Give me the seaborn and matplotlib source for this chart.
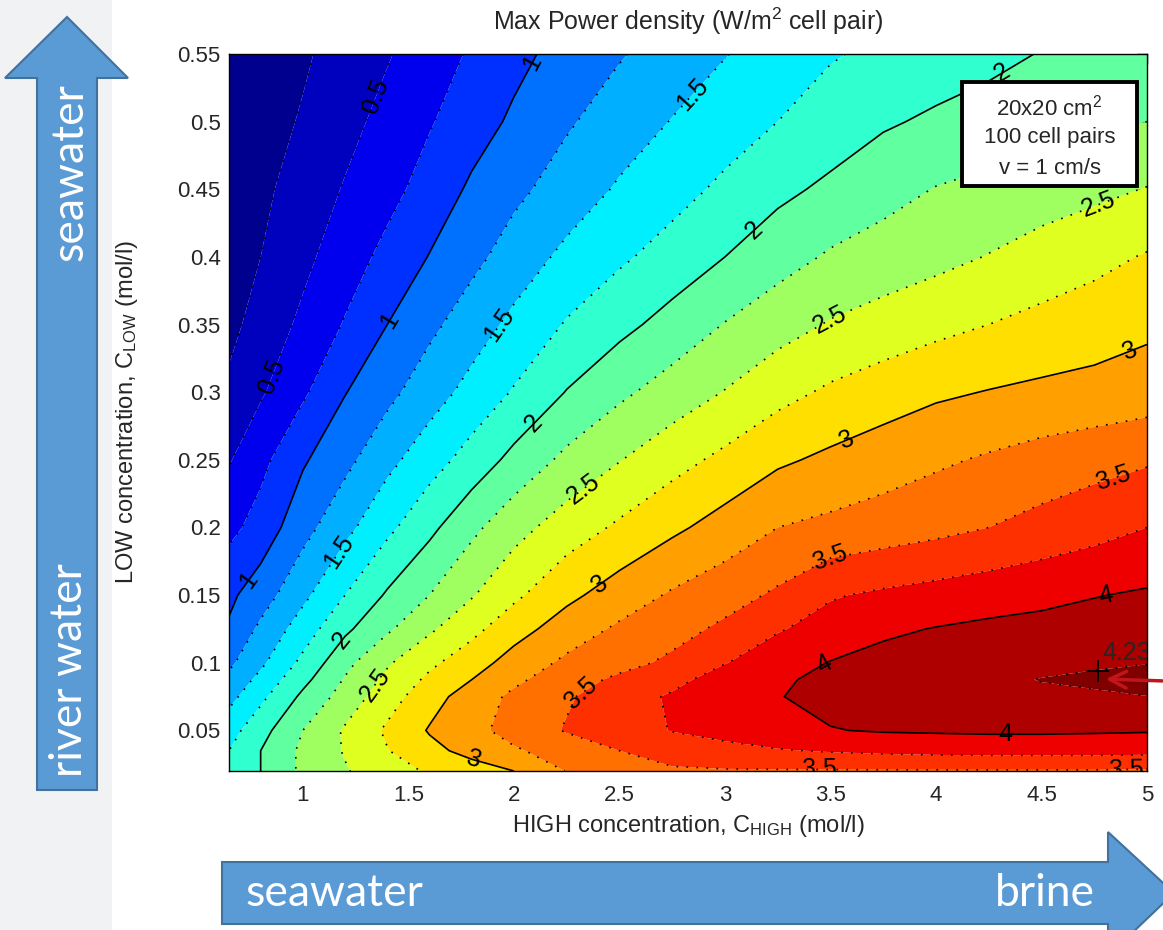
import numpy as np
import matplotlib
matplotlib.use("Agg")
import matplotlib.pyplot as plt
import seaborn as sns
from matplotlib.patches import Polygon, Rectangle, FancyArrowPatch

# ---------------- data ----------------
c_high = [0.65, 0.8, 1.0, 1.2, 1.4, 1.6, 1.8, 2.0, 2.25, 2.5, 2.75, 3.0,
          3.25, 3.5, 3.75, 4.0, 4.25, 4.5, 4.75, 5.0]
c_low = [0.02, 0.035, 0.05, 0.075, 0.0875, 0.1, 0.125, 0.15, 0.2, 0.25, 0.3, 0.35, 0.4, 0.45, 0.5, 0.55]

# max power density (W/m2 cell pair), one list per C_LOW row, along c_high
pd_clow_0020 = [1.85, 2.00, 2.30, 2.48, 2.64, 2.78, 2.89, 3.00, 3.26, 3.42, 3.47, 3.48, 3.48, 3.48, 3.48, 3.48, 3.48, 3.48, 3.48, 3.47]
pd_clow_0035 = [1.75, 2.00, 2.30, 2.52, 2.74, 2.93, 3.08, 3.22, 3.36, 3.50, 3.60, 3.67, 3.73, 3.77, 3.80, 3.82, 3.83, 3.83, 3.83, 3.82]
pd_clow_0050 = [1.65, 1.91, 2.25, 2.53, 2.79, 3.02, 3.18, 3.34, 3.52, 3.64, 3.76, 3.84, 3.93, 3.99, 4.02, 4.03, 4.04, 4.04, 4.03, 4.02]
pd_clow_0075 = [1.42, 1.69, 2.05, 2.35, 2.64, 2.90, 3.12, 3.30, 3.47, 3.64, 3.78, 3.90, 3.99, 4.07, 4.11, 4.14, 4.18, 4.20, 4.21, 4.228]
pd_clow_0088 = [1.31, 1.57, 1.93, 2.27, 2.56, 2.80, 3.00, 3.20, 3.39, 3.55, 3.68, 3.86, 3.97, 4.05, 4.11, 4.15, 4.20, 4.235, 4.255, 4.28]
pd_clow_0100 = [1.20, 1.45, 1.81, 2.18, 2.47, 2.70, 2.89, 3.10, 3.30, 3.42, 3.55, 3.74, 3.89, 4.01, 4.07, 4.12, 4.16, 4.19, 4.21, 4.225]
pd_clow_0125 = [1.03, 1.30, 1.62, 1.95, 2.21, 2.46, 2.68, 2.90, 3.12, 3.29, 3.41, 3.55, 3.73, 3.84, 3.96, 4.01, 4.05, 4.07, 4.10, 4.12]
pd_clow_0150 = [0.95, 1.13, 1.44, 1.75, 2.03, 2.25, 2.48, 2.70, 2.94, 3.12, 3.28, 3.40, 3.54, 3.73, 3.79, 3.84, 3.89, 3.94, 3.99, 4.03]
pd_clow_0200 = [0.68, 0.85, 1.16, 1.43, 1.69, 1.94, 2.19, 2.41, 2.62, 2.79, 2.95, 3.10, 3.25, 3.31, 3.37, 3.43, 3.50, 3.58, 3.66, 3.75]
pd_clow_0250 = [0.48, 0.68, 0.97, 1.18, 1.43, 1.64, 1.85, 2.07, 2.31, 2.49, 2.66, 2.81, 2.96, 3.05, 3.13, 3.21, 3.28, 3.35, 3.41, 3.47]
pd_clow_0300 = [0.30, 0.47, 0.71, 0.99, 1.18, 1.39, 1.58, 1.77, 2.01, 2.20, 2.36, 2.51, 2.67, 2.79, 2.88, 2.96, 3.01, 3.05, 3.08, 3.12]
pd_clow_0350 = [0.18, 0.35, 0.55, 0.77, 1.00, 1.19, 1.38, 1.56, 1.77, 1.93, 2.09, 2.26, 2.40, 2.52, 2.60, 2.68, 2.75, 2.82, 2.88, 2.95]
pd_clow_0400 = [0.12, 0.25, 0.44, 0.63, 0.82, 1.01, 1.18, 1.36, 1.56, 1.71, 1.85, 2.00, 2.15, 2.28, 2.36, 2.43, 2.51, 2.60, 2.68, 2.77]
pd_clow_0450 = [0.10, 0.20, 0.35, 0.52, 0.67, 0.85, 1.04, 1.19, 1.36, 1.53, 1.66, 1.80, 1.94, 2.05, 2.16, 2.26, 2.32, 2.38, 2.44, 2.51]
pd_clow_0500 = [0.08, 0.16, 0.27, 0.42, 0.58, 0.73, 0.89, 1.04, 1.22, 1.37, 1.51, 1.63, 1.75, 1.86, 1.97, 2.04, 2.09, 2.14, 2.20, 2.25]
pd_clow_0550 = [0.05, 0.12, 0.22, 0.34, 0.48, 0.63, 0.78, 0.93, 1.09, 1.23, 1.36, 1.49, 1.61, 1.73, 1.80, 1.87, 1.94, 2.01, 2.08, 2.15]

peak_c_high = 4.77
peak_c_low = 0.094
peak_value = 4.23

fill_levels = [0.0, 0.25, 0.5, 0.75, 1.0, 1.25, 1.5, 1.75, 2.0, 2.25, 2.5, 2.75,
               3.0, 3.25, 3.5, 3.75, 4.0, 4.23, 4.3]
label_levels = [0.5, 1.0, 1.5, 2.0, 2.5, 3.0, 3.5, 4.0]
plain_levels = [0.25, 0.75, 1.25, 1.75, 2.25, 2.75, 3.25, 3.75, 4.23]
x_ticks = [1, 1.5, 2, 2.5, 3, 3.5, 4, 4.5, 5]
y_ticks = [0.05, 0.1, 0.15, 0.2, 0.25, 0.3, 0.35, 0.4, 0.45, 0.5, 0.55]
box_lines = ["20x20 cm$^\\mathregular{2}$", "100 cell pairs", "v = 1 cm/s"]

# label anchor points (layout only)
label_spots = [(1.36, 0.518), (0.79, 0.316),
               (2.13, 0.54), (1.41, 0.353), (0.74, 0.161),
               (2.84, 0.521), (1.93, 0.35), (1.16, 0.183),
               (4.30, 0.54), (3.10, 0.427), (2.08, 0.279), (1.18, 0.117),
               (4.78, 0.435), (3.50, 0.353), (2.32, 0.23), (1.33, 0.085),
               (4.91, 0.335), (3.57, 0.268), (2.39, 0.162), (1.80, 0.024),
               (4.83, 0.242), (3.48, 0.188), (2.32, 0.077), (3.45, 0.022), (4.90, 0.024),
               (4.80, 0.153), (3.48, 0.096), (4.33, 0.04)]

# ---------------- style ----------------
sns.set_style("white")
plt.rcParams['font.family'] = ['Liberation Sans', 'DejaVu Sans']
plt.rcParams['mathtext.fontset'] = 'custom'
plt.rcParams['mathtext.rm'] = 'Liberation Sans'
plt.rcParams['mathtext.it'] = 'Liberation Sans:italic'

W, H = 1163, 930
fig = plt.figure(figsize=(W / 100, H / 100), dpi=100, facecolor='white')


def fx(px):
    return px / W


def fy(py):
    return 1 - py / H


def matlab_jet(n=64):
    """The classic MATLAB jet colour table."""
    m = int(np.ceil(n / 4))
    u = np.concatenate([np.arange(1, m + 1) / m, np.ones(m - 1), np.arange(m, 0, -1) / m])
    g = int(np.ceil(m / 2)) - (1 if n % 4 == 1 else 0) + np.arange(1, len(u) + 1)
    table = np.zeros((n, 3))
    for idx, ch in ((g + m, 0), (g, 1), (g - m, 2)):
        ok = (idx >= 1) & (idx <= n)
        table[idx[ok] - 1, ch] = u[ok]
    return table


# light slide strip on the left
fig.add_artist(Rectangle((0, 0), fx(112), 1, transform=fig.transFigure,
                         facecolor='#F1F2F4', edgecolor='none', zorder=0))

ax = fig.add_axes([fx(229), fy(771), fx(1147) - fx(229), fy(54) - fy(771)])

Z = np.array([pd_clow_0020, pd_clow_0035, pd_clow_0050, pd_clow_0075, pd_clow_0088,
              pd_clow_0100, pd_clow_0125, pd_clow_0150, pd_clow_0200, pd_clow_0250,
              pd_clow_0300, pd_clow_0350, pd_clow_0400, pd_clow_0450, pd_clow_0500,
              pd_clow_0550])
X, Y = np.meshgrid(c_high, c_low)

# band colours as MATLAB assigns them: lower bound of each band on [min, peak]
jet_table = matlab_jet(64)
zmin = Z.min()
band_colors = []
for lo in fill_levels[:-1]:
    v = max(lo, zmin)
    k = int((v - zmin) / (peak_value - zmin) * 64)
    band_colors.append(tuple(jet_table[min(k, 63)]))
ax.contourf(X, Y, Z, levels=fill_levels, colors=band_colors, antialiased=True)

dotted = (0, (1, 5))
ax.contour(X, Y, Z, levels=plain_levels, colors='k', linewidths=1.2,
           linestyles=[dotted] * len(plain_levels))
lab_styles = ['solid' if float(l).is_integer() else dotted for l in label_levels]
cs = ax.contour(X, Y, Z, levels=label_levels, colors='k', linewidths=1.2,
                linestyles=lab_styles)
ax.clabel(cs, manual=label_spots, inline=False,
          fontsize=18, colors='k', fmt=lambda v: f"{v:g}")

ax.plot([peak_c_high], [peak_c_low], marker='+', color='k', ms=16, mew=1.3,
        linestyle='none')
ax.text(peak_c_high + 0.02, peak_c_low + 0.004, f"{peak_value:g}", fontsize=18,
        ha='left', va='bottom', clip_on=True)

ax.set_xlim(0.65, 5.0)
ax.set_ylim(0.02, 0.55)
ax.set_xticks(x_ticks)
ax.set_xticklabels([f"{v:g}" for v in x_ticks])
ax.set_yticks(y_ticks)
ax.set_yticklabels([f"{v:g}" for v in y_ticks])
ax.tick_params(direction='in', top=True, right=True, length=7, width=1,
               labelsize=16, color='k')
ax.tick_params(axis='x', pad=10)
ax.tick_params(axis='y', pad=6)
for s in ax.spines.values():
    s.set_color('k')
    s.set_linewidth(1.0)

ax.set_title("Max Power density (W/m$^\\mathregular{2}$ cell pair)", fontsize=18, pad=17)
ax.set_xlabel("HIGH concentration, C$_\\mathregular{HIGH}$ (mol/l)", fontsize=17)
ax.xaxis.set_label_coords(0.5, -0.058)
ax.set_ylabel("LOW concentration, C$_\\mathregular{LOW}$ (mol/l)", fontsize=17)
ax.yaxis.set_label_coords(-0.097, 0.5)

# info box
ax.add_patch(Rectangle((0.798, 0.816), 0.191, 0.145, transform=ax.transAxes,
                       facecolor='white', edgecolor='black', lw=2.8, zorder=6))
for txt, yy in zip(box_lines, [0.926, 0.883, 0.841]):
    ax.text(0.894, yy, txt, transform=ax.transAxes, ha='center', va='center',
            fontsize=16, zorder=7)

# slide decorations: blue arrows with captions
arrow_face, arrow_edge = '#5B9BD5', '#41719C'
v_arrow = [(67, 17), (128, 78), (97, 78), (97, 790), (37, 790), (37, 78), (5, 78)]
fig.add_artist(Polygon([(fx(a), fy(b)) for a, b in v_arrow], closed=True,
                       transform=fig.transFigure, facecolor=arrow_face,
                       edgecolor=arrow_edge, lw=1.5, zorder=3))
h_arrow = [(222, 862), (1108, 862), (1108, 832), (1174, 893), (1108, 956),
           (1108, 924), (222, 924)]
fig.add_artist(Polygon([(fx(a), fy(b)) for a, b in h_arrow], closed=True,
                       transform=fig.transFigure, facecolor=arrow_face,
                       edgecolor=arrow_edge, lw=1.5, zorder=3))

deco_font = ['Lato', 'DejaVu Sans']
fig.text(fx(70), fy(172), "seawater", rotation=90, color='white', fontsize=32,
         family=deco_font, ha='center', va='center', zorder=4)
fig.text(fx(70), fy(670), "river water", rotation=90, color='white', fontsize=32,
         family=deco_font, ha='center', va='center', zorder=4)
fig.text(fx(245), fy(893), "seawater", color='white', fontsize=32,
         family=deco_font, ha='left', va='center', zorder=4)
fig.text(fx(1095), fy(893), "brine", color='white', fontsize=32,
         family=deco_font, ha='right', va='center', zorder=4)

# red pointer to the maximum
fig.add_artist(FancyArrowPatch((fx(1165), fy(681)), (fx(1103), fy(679)),
                               transform=fig.transFigure, arrowstyle='->',
                               mutation_scale=30, color='#C0161B', lw=2.5,
                               zorder=8))

fig.savefig("out.png", dpi=100, facecolor=fig.get_facecolor())
